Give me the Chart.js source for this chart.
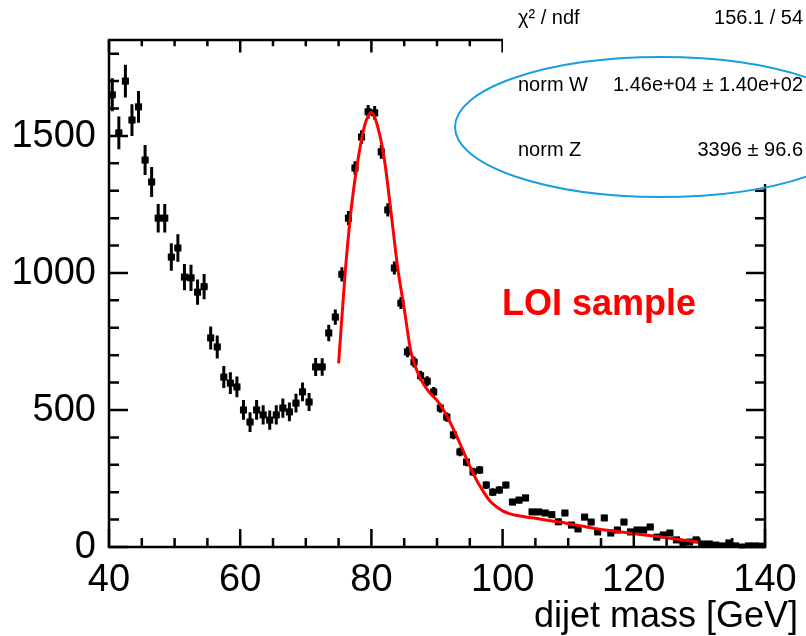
<!DOCTYPE html>
<html lang="en">
<head>
<meta charset="UTF-8">
<title>dijet mass fit</title>
<script src="https://cdn.jsdelivr.net/npm/chart.js@4.4.2/dist/chart.umd.min.js"></script>
<style>
    body { margin: 0; background: white; }
    canvas { display: block; }
</style>
</head>
<body>
<canvas id="plot" width="806" height="636"></canvas>
<script>
    // bin centres [GeV] and weighted counts
    const massBins = [40.5, 41.5, 42.5, 43.5, 44.5, 45.5, 46.5, 47.5, 48.5, 49.5,
        50.5, 51.5, 52.5, 53.5, 54.5, 55.5, 56.5, 57.5, 58.5, 59.5,
        60.5, 61.5, 62.5, 63.5, 64.5, 65.5, 66.5, 67.5, 68.5, 69.5,
        70.5, 71.5, 72.5, 73.5, 74.5, 75.5, 76.5, 77.5, 78.5, 79.5,
        80.5, 81.5, 82.5, 83.5, 84.5, 85.5, 86.5, 87.5, 88.5, 89.5,
        90.5, 91.5, 92.5, 93.5, 94.5, 95.5, 96.5, 97.5, 98.5, 99.5,
        100.5, 101.5, 102.5, 103.5, 104.5, 105.5, 106.5, 107.5, 108.5, 109.5,
        110.5, 111.5, 112.5, 113.5, 114.5, 115.5, 116.5, 117.5, 118.5, 119.5,
        120.5, 121.5, 122.5, 123.5, 124.5, 125.5, 126.5, 127.5, 128.5, 129.5,
        130.5, 131.5, 132.5, 133.5, 134.5, 135.5, 136.5, 137.5, 138.5, 139.5];
    const counts = [1650, 1511, 1700, 1558, 1606, 1412, 1332, 1200, 1200, 1058,
        1091, 985, 982, 930, 950, 763, 730, 620, 598, 584,
        500, 456, 500, 482, 463, 482, 507, 493, 525, 566,
        529, 657, 657, 781, 839, 995, 1200, 1383, 1496, 1588,
        1584, 1442, 1230, 1018, 890, 712, 675, 625, 605, 566,
        507, 474, 409, 347, 310, 274, 281, 226, 200, 208,
        226, 164, 171, 179, 128, 128, 124, 118, 92, 124,
        80, 66, 109, 91, 55, 106, 51, 62, 91, 55,
        62, 62, 73, 36, 44, 51, 26, 15, 18, 26,
        11, 11, 7, 4, 15, 4, 0, 4, 4, 3];
    const countErrors = [60, 60, 60, 58, 58, 55, 55, 52, 52, 50,
        50, 48, 48, 46, 46, 42, 42, 40, 40, 38,
        36, 36, 36, 35, 35, 35, 35, 34, 34, 34,
        33, 33, 32, 30, 28, 26, 26, 25, 25, 25,
        25, 25, 24, 24, 22, 20, 20, 18, 18, 18,
        17, 17, 16, 16, 15, 15, 15, 14, 14, 14,
        12, 12, 12, 12, 11, 11, 11, 11, 10, 10,
        10, 9, 9, 9, 9, 9, 8, 8, 8, 8,
        8, 8, 7, 7, 7, 7, 6, 6, 6, 6,
        5, 5, 5, 5, 5, 5, 4, 4, 4, 4];

    // fitted W+Z curve
    const fitMass = [75, 76, 77, 78, 79, 80, 81, 82, 83, 84, 85, 86, 87, 88, 89,
        90, 91, 92, 93, 94, 95, 96, 97, 98, 99, 100, 101, 102, 103, 104,
        105, 106, 107, 108, 109, 110, 111, 112, 113, 114, 115, 116, 117, 118, 119,
        120, 121, 122, 123, 124, 125, 126, 127, 128, 129, 130];
    const fitValues = [670, 1000, 1250, 1420, 1540, 1585, 1530, 1410, 1220, 1020, 870, 715, 640, 592, 560,
        535, 500, 455, 405, 350, 295, 245, 205, 170, 148, 132, 122, 116, 112, 108,
        105, 101, 97, 93, 90, 85, 81, 77, 72, 68, 64, 61, 58, 55, 52,
        49, 46, 43, 40, 37, 34, 30, 27, 24, 21, 17];

    const xTickLabels = [40, 60, 80, 100, 120, 140];
    const yTickLabels = [0, 500, 1000, 1500];
    const statNames = ['χ² / ndf', 'norm W', 'norm Z'];
    const statValues = ['156.1 / 54', '1.46e+04 ± 1.40e+02', '3396 ± 96.6'];
    const xTitle = 'dijet mass [GeV]';
    const sampleLabel = 'LOI sample';

    const FONT = '"Liberation Sans", Arial, sans-serif';

    // error bars under the markers
    const errorBars = {
        id: 'errorBars',
        beforeDatasetsDraw(chart) {
            const ctx = chart.ctx, xs = chart.scales.x, ys = chart.scales.y;
            ctx.save();
            ctx.strokeStyle = 'black';
            ctx.lineWidth = 3;
            for (let i = 0; i < massBins.length; i++) {
                const px = xs.getPixelForValue(massBins[i]);
                const py = ys.getPixelForValue(counts[i]);
                ctx.beginPath();
                ctx.moveTo(px, ys.getPixelForValue(counts[i] - countErrors[i]));
                ctx.lineTo(px, ys.getPixelForValue(counts[i] + countErrors[i]));
                ctx.moveTo(xs.getPixelForValue(massBins[i] - 0.5), py);
                ctx.lineTo(xs.getPixelForValue(massBins[i] + 0.5), py);
                ctx.stroke();
            }
            ctx.restore();
        }
    };

    // ROOT style frame with inward ticks, labels and the stats box
    const frame = {
        id: 'frame',
        afterDraw(chart) {
            const ctx = chart.ctx, xs = chart.scales.x, ys = chart.scales.y;
            const a = chart.chartArea;
            ctx.save();
            ctx.strokeStyle = 'black';
            ctx.lineWidth = 2.5;
            ctx.strokeRect(a.left, a.top, a.right - a.left, a.bottom - a.top);
            ctx.beginPath();
            for (let v = 40; v <= 140; v += 5) {
                const px = xs.getPixelForValue(v);
                const len = v % 20 === 0 ? 18 : 9;
                ctx.moveTo(px, a.bottom); ctx.lineTo(px, a.bottom - len);
                ctx.moveTo(px, a.top); ctx.lineTo(px, a.top + len * 0.7);
            }
            for (let v = 0; v <= 1800; v += 100) {
                const py = ys.getPixelForValue(v);
                const len = v % 500 === 0 ? 19 : 10;
                ctx.moveTo(a.left, py); ctx.lineTo(a.left + len, py);
                ctx.moveTo(a.right, py); ctx.lineTo(a.right - len, py);
            }
            ctx.stroke();

            // tick labels
            ctx.fillStyle = 'black';
            ctx.font = '38px ' + FONT;
            ctx.textAlign = 'right';
            ctx.textBaseline = 'middle';
            yTickLabels.forEach(v => ctx.fillText(String(v), 96, ys.getPixelForValue(v) + 1));
            ctx.textAlign = 'center';
            xTickLabels.forEach(v => ctx.fillText(String(v), xs.getPixelForValue(v), 581));
            ctx.font = '36px ' + FONT;
            ctx.textAlign = 'right';
            ctx.fillText(xTitle, 798, 617);

            // stats box (cut by the page edge)
            ctx.fillStyle = 'white';
            ctx.fillRect(503, 0, 303, 184);
            ctx.fillStyle = 'black';
            ctx.font = '20px ' + FONT;
            const rows = [18, 85, 150];
            statNames.forEach((s, i) => {
                ctx.textAlign = 'left';
                ctx.fillText(s, 518, rows[i]);
                ctx.textAlign = 'right';
                ctx.fillText(statValues[i], 803, rows[i]);
            });
            ctx.strokeStyle = '#1a9de0';
            ctx.lineWidth = 2;
            ctx.beginPath();
            ctx.ellipse(661, 127, 206, 70, 0, 0, Math.PI * 2);
            ctx.stroke();

            ctx.fillStyle = '#ff0000';
            ctx.font = 'bold 36px ' + FONT;
            ctx.textAlign = 'left';
            ctx.fillText(sampleLabel, 502, 305);
            ctx.restore();
        }
    };

    const dataPoints = massBins.map((m, i) => ({ x: m, y: counts[i] }));
    const fitPoints = fitMass.map((m, i) => ({ x: m, y: fitValues[i] }));

    new Chart(document.getElementById('plot'), {
        type: 'scatter',
        data: {
            datasets: [{
                label: 'fit',
                data: fitPoints,
                showLine: true,
                borderColor: '#ff0000',
                borderWidth: 3,
                pointRadius: 0,
                cubicInterpolationMode: 'monotone',
                order: 0
            }, {
                label: 'data',
                data: dataPoints,
                pointStyle: 'rect',
                pointRadius: 5,
                backgroundColor: 'black',
                borderColor: 'black',
                borderWidth: 0,
                order: 1
            }]
        },
        options: {
            responsive: false,
            animation: false,
            layout: { padding: { left: 109, right: 41, top: 40, bottom: 89 } },
            plugins: { legend: { display: false }, tooltip: { enabled: false } },
            scales: {
                x: { type: 'linear', min: 40, max: 140, display: false },
                y: { type: 'linear', min: 0, max: 1850, display: false }
            }
        },
        plugins: [errorBars, frame]
    });
</script>
</body>
</html>
